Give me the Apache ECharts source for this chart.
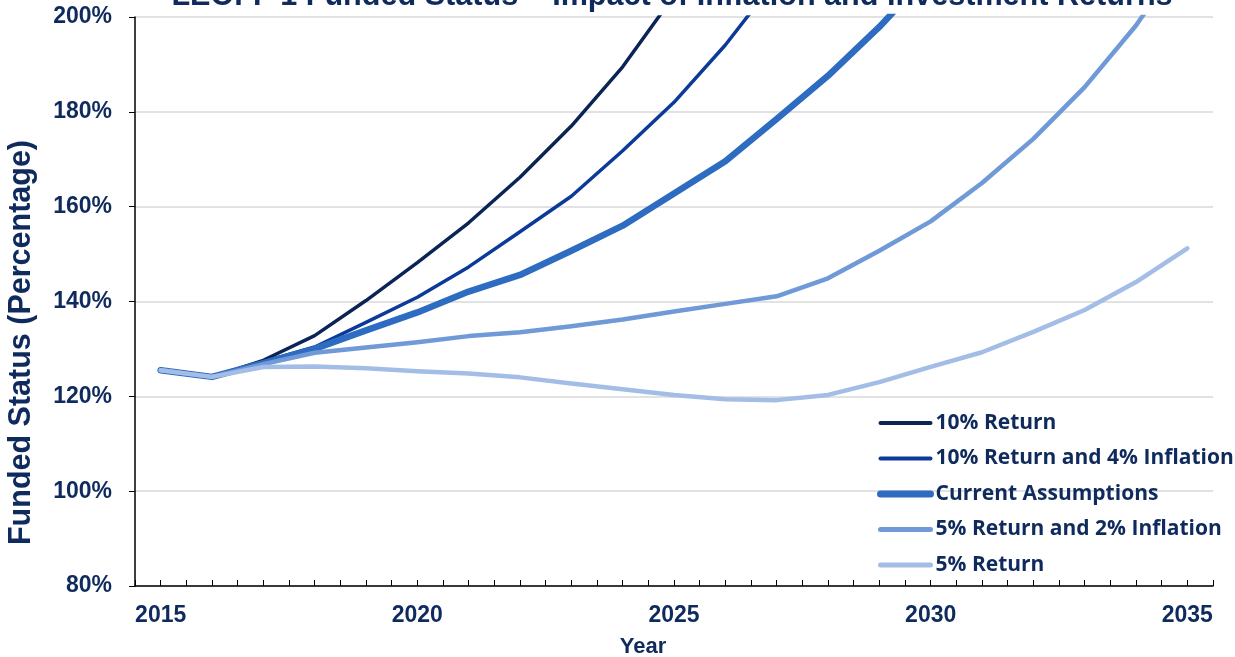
<!DOCTYPE html>
<html>
<head>
<meta charset="utf-8">
<script src="https://cdn.jsdelivr.net/npm/echarts@6/dist/echarts.min.js"></script>
<style>
  html, body { margin: 0; padding: 0; background: #fff; }
  #chart { width: 1235px; height: 657px; }
</style>
</head>
<body>
<div id="chart"></div>
<script>
// years 2015..2035, values in percent (lines that leave the top stop one point past 200%)
const years = [2015, 2016, 2017, 2018, 2019, 2020, 2021, 2022, 2023, 2024, 2025,
  2026, 2027, 2028, 2029, 2030, 2031, 2032, 2033, 2034, 2035];
const return10 = [125.5, 124.1, 127.6, 132.8, 140.2, 148.2, 156.6, 166.2, 177.0, 189.5, 204.5];
const return10Inf4 = [125.5, 124.1, 127.3, 130.4, 135.6, 140.9, 147.3, 154.7, 162.2, 171.8, 182.0, 194.1, 208.0];
const current = [125.5, 124.1, 127.0, 130.0, 133.9, 137.7, 142.1, 145.6, 150.7, 156.0, 162.8,
  169.6, 178.5, 187.6, 197.9, 209.5];
const return5Inf2 = [125.5, 124.1, 126.8, 129.2, 130.3, 131.4, 132.7, 133.5, 134.8, 136.2, 137.9,
  139.5, 141.1, 144.9, 150.7, 156.9, 165.0, 174.3, 185.2, 198.2, 214.0];
const return5 = [125.5, 124.1, 126.2, 126.3, 125.9, 125.3, 124.8, 124.0, 122.7, 121.5, 120.3,
  119.4, 119.2, 120.3, 123.0, 126.2, 129.3, 133.6, 138.2, 144.1, 151.2];
const yTicks = [80, 100, 120, 140, 160, 180, 200];

const seriesNames = ["10% Return", "10% Return and 4% Inflation", "Current Assumptions",
  "5% Return and 2% Inflation", "5% Return"];
const seriesColors = ["#0a2456", "#0b3a98", "#2d6cc0", "#6f9ad7", "#a3bde6"];
const seriesWidths = [3.5, 3.5, 6.5, 4.5, 4.5];

const navy = "#0f2a5c";

const pairs = (arr) => arr.map((v, i) => [years[i], v]);

const makeLine = (idx, data) => ({
  name: seriesNames[idx],
  type: "line",
  data: pairs(data),
  symbol: "none",
  clip: true,
  lineStyle: { color: seriesColors[idx], width: seriesWidths[idx], cap: "round", join: "round" },
  itemStyle: { color: seriesColors[idx] },
});

const myChart = echarts.init(document.getElementById("chart"));
myChart.setOption({
  animation: false,
  title: {
    text: "LEOFF 1 Funded Status \u2013 Impact of Inflation and Investment Returns",
    left: 667,
    top: -24,
    textAlign: "center",
    textStyle: {
      fontFamily: "Liberation Sans",
      fontWeight: "bold",
      fontSize: 30.6,
      color: navy,
    },
  },
  grid: { left: 135, right: 22, top: 17, bottom: 71, outerBoundsMode: "none" },
  legend: {
    orient: "vertical",
    left: 872,
    top: 407,
    itemWidth: 50,
    itemHeight: 12,
    itemGap: 13.5,
    itemStyle: { opacity: 0 },
    textStyle: {
      fontFamily: "Open Sans",
      fontWeight: "bold",
      fontSize: 21,
      lineHeight: 22,
      color: navy,
    },
    data: seriesNames.map((n, i) => ({
      name: n,
      lineStyle: { color: seriesColors[i], width: seriesWidths[i] + 0.5, cap: "round" },
    })),
  },
  xAxis: {
    type: "value",
    min: 2014.5,
    max: 2035.5,
    interval: 0.5,
    name: "Year",
    nameLocation: "middle",
    nameGap: 50,
    nameTextStyle: {
      fontFamily: "Liberation Sans",
      fontWeight: "bold",
      fontSize: 22,
      color: navy,
      padding: [0, 62, 0, 0],
    },
    axisLine: { lineStyle: { color: "#000", width: 1.5 } },
    axisTick: { inside: true, length: 6, lineStyle: { color: "#000" } },
    splitLine: { show: false },
    axisLabel: {
      margin: 18,
      fontFamily: "Liberation Sans",
      fontWeight: "bold",
      fontSize: 23,
      color: navy,
      formatter: (v) => (Number.isInteger(v) && years.includes(v) && v % 5 === 0 ? String(v) : ""),
    },
  },
  yAxis: {
    type: "value",
    min: yTicks[0],
    max: yTicks[yTicks.length - 1],
    interval: 20,
    name: "Funded Status (Percentage)",
    nameLocation: "middle",
    nameGap: 98,
    nameTextStyle: {
      fontFamily: "Liberation Sans",
      fontWeight: "bold",
      fontSize: 30.5,
      color: navy,
      padding: [0, 82, 0, 0],
    },
    axisLine: { show: true, lineStyle: { color: "#000", width: 1.5 } },
    axisTick: { show: true, length: 6, lineStyle: { color: "#000" } },
    splitLine: { lineStyle: { color: "#d9d9d9", width: 1.5 } },
    axisLabel: {
      margin: 23,
      fontFamily: "Liberation Sans",
      fontWeight: "bold",
      fontSize: 23,
      color: navy,
      formatter: "{value}%",
    },
  },
  series: [
    makeLine(0, return10),
    makeLine(1, return10Inf4),
    makeLine(2, current),
    makeLine(3, return5Inf2),
    makeLine(4, return5),
  ],
});
</script>
</body>
</html>
